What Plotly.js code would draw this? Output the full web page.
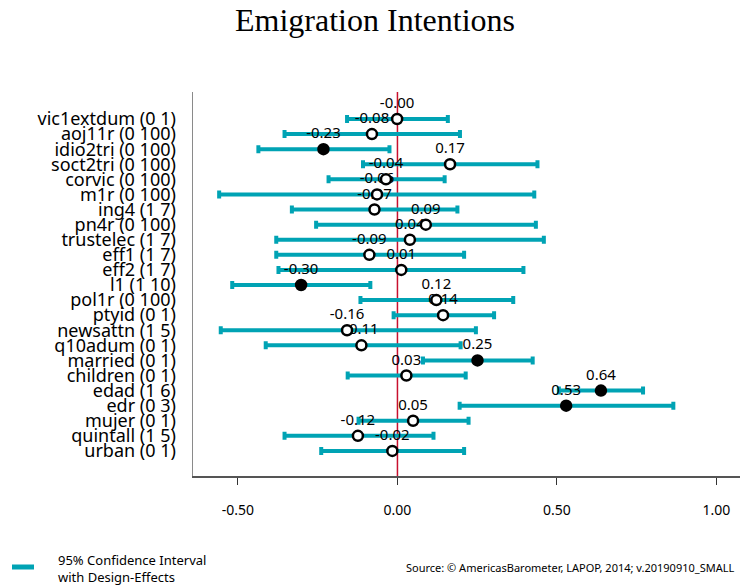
<!DOCTYPE html>
<html>
<head>
<meta charset="utf-8">
<script src="https://cdn.plot.ly/plotly-3.0.1.min.js"></script>
<style>html,body{margin:0;padding:0;background:#fff;}#chart{width:740px;height:587px;}</style>
</head>
<body>
<div id="chart"></div>
<script>
// ---- data ----
const categories = ['vic1extdum (0 1)', 'aoj11r (0 100)', 'idio2tri (0 100)', 'soct2tri (0 100)', 'corvic (0 100)',
  'm1r (0 100)', 'ing4 (1 7)', 'pn4r (0 100)', 'trustelec (1 7)', 'eff1 (1 7)', 'eff2 (1 7)', 'l1 (1 10)',
  'pol1r (0 100)', 'ptyid (0 1)', 'newsattn (1 5)', 'q10adum (0 1)', 'married (0 1)', 'children (0 1)',
  'edad (1 6)', 'edr (0 3)', 'mujer (0 1)', 'quintall (1 5)', 'urban (0 1)'];
const estimates = [-0.001, -0.080, -0.232, 0.165, -0.036, -0.064, -0.072, 0.089, 0.039, -0.088, 0.012, -0.302,
  0.122, 0.143, -0.158, -0.113, 0.251, 0.028, 0.638, 0.529, 0.049, -0.124, -0.016];
const ciLow = [-0.158, -0.354, -0.436, -0.108, -0.216, -0.559, -0.331, -0.255, -0.380, -0.380, -0.373, -0.518,
  -0.116, -0.012, -0.554, -0.413, 0.080, -0.156, 0.506, 0.195, -0.122, -0.354, -0.239];
const ciHigh = [0.158, 0.196, -0.025, 0.439, 0.148, 0.429, 0.188, 0.434, 0.459, 0.209, 0.395, -0.085,
  0.363, 0.303, 0.246, 0.198, 0.424, 0.214, 0.770, 0.865, 0.223, 0.113, 0.209];
const valueLabels = ['-0.00', '-0.08', '-0.23', '0.17', '-0.04', '-0.06', '-0.07', '0.09', '0.04', '-0.09', '0.01', '-0.30',
  '0.12', '0.14', '-0.16', '-0.11', '0.25', '0.03', '0.64', '0.53', '0.05', '-0.12', '-0.02'];
const xTickVals = [-0.5, 0, 0.5, 1];
const xTickText = ['-0.50', '0.00', '0.50', '1.00'];
const titleText = 'Emigration Intentions';
const legendText = '95% Confidence Interval<br>with Design-Effects';
const sourceText = 'Source: \u00a9 AmericasBarometer, LAPOP, 2014; v.20190910_SMALL';

// ---- styling ----
const TEAL = '#00a3b4';
const FONT = 'Noto Sans, Open Sans, sans-serif';
const W = 740, H = 587, L = 193, R = 0, T = 92, B = 111;
const pw = W - L - R, ph = H - T - B;
const px = v => (v - L) / pw;          // pixel -> paper x
const py = v => (H - B - v) / ph;      // pixel -> paper y

const errPlus = estimates.map((e, i) => ciHigh[i] - e);
const errMinus = estimates.map((e, i) => e - ciLow[i]);
const significant = ciLow.map((lo, i) => lo > 0 || ciHigh[i] < 0);

const traces = [
  { // confidence intervals
    type: 'scatter', mode: 'markers', x: estimates, y: categories,
    marker: { size: 1, color: 'rgba(0,0,0,0)' },
    error_x: { type: 'data', array: errPlus, arrayminus: errMinus, color: TEAL, thickness: 4, width: 4, visible: true },
    hoverinfo: 'skip', showlegend: false
  },
  { // value labels
    type: 'scatter', mode: 'markers+text', x: estimates, y: categories,
    marker: { size: 10, color: 'rgba(0,0,0,0)' },
    text: valueLabels, textposition: 'top center',
    textfont: { family: FONT, size: 15, color: '#000' },
    hoverinfo: 'skip', showlegend: false
  },
  { // point estimates
    type: 'scatter', mode: 'markers', x: estimates, y: categories,
    marker: { size: 10, color: significant.map(s => s ? '#000' : '#fff'), line: { color: '#000', width: 2.5 } },
    showlegend: false
  }
];

const layout = {
  width: W, height: H,
  margin: { l: L, r: R, t: T, b: B, pad: 0 },
  paper_bgcolor: '#fff', plot_bgcolor: '#fff',
  showlegend: false,
  title: { text: titleText, font: { family: 'Liberation Serif, Times New Roman, serif', size: 32, color: '#000' },
    x: 375 / W, xref: 'container', xanchor: 'center', y: 1 - 20 / H, yref: 'container', yanchor: 'middle' },
  xaxis: {
    range: [-0.641, 1.074], tickmode: 'array', tickvals: xTickVals, ticktext: xTickText,
    ticks: 'outside', ticklen: 7, tickwidth: 1, tickcolor: '#333',
    showline: true, linecolor: '#555', linewidth: 1.5,
    showgrid: false, zeroline: false,
    tickfont: { family: FONT, size: 14, color: '#000' }, ticklabelstandoff: 14
  },
  yaxis: {
    type: 'category', categoryorder: 'array', categoryarray: categories,
    tickmode: 'array', tickvals: categories, ticktext: categories,
    range: [23.66, -1.79], ticks: '', showline: true, linecolor: '#8a8a8a', linewidth: 1.5,
    showgrid: false, zeroline: false,
    tickfont: { family: FONT, size: 18, color: '#000' }, ticklabelstandoff: 12
  },
  shapes: [
    { type: 'line', xref: 'x', yref: 'paper', x0: 0, x1: 0, y0: 0, y1: 1, layer: 'below',
      line: { color: '#c8102e', width: 1.5 } },
    { type: 'line', xref: 'paper', yref: 'paper', x0: px(12), x1: px(34), y0: py(567), y1: py(567),
      line: { color: TEAL, width: 5 } }
  ],
  annotations: [
    { xref: 'paper', yref: 'paper', x: px(56), y: py(568), xanchor: 'left', yanchor: 'middle', align: 'left',
      showarrow: false, text: legendText, font: { family: FONT, size: 13, color: '#000' } },
    { xref: 'paper', yref: 'paper', x: px(736), y: py(567), xanchor: 'right', yanchor: 'middle', align: 'right',
      showarrow: false, text: sourceText, font: { family: FONT, size: 11, color: '#000' } }
  ]
};

Plotly.newPlot('chart', traces, layout, { displayModeBar: false, staticPlot: true });
</script>
</body>
</html>
